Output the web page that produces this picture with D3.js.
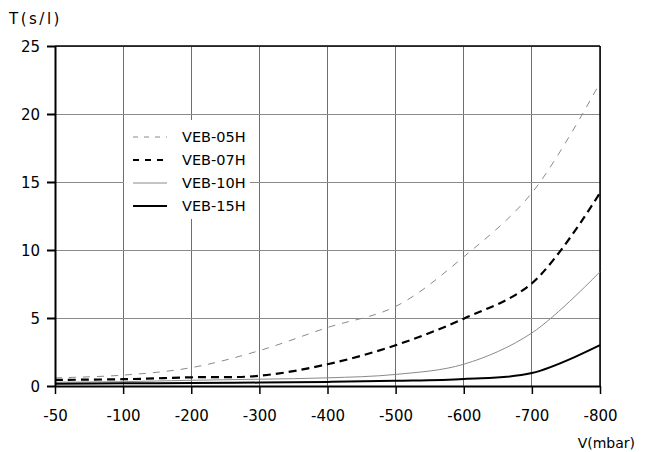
<!DOCTYPE html>
<html>
<head>
<meta charset="utf-8">
<script src="https://cdn.jsdelivr.net/npm/d3@7"></script>
<style>
  html, body { margin: 0; padding: 0; background: #fff; }
  svg { display: block; }
  text { font-family: "DejaVu Sans", sans-serif; fill: #000; }
</style>
</head>
<body>
<svg id="chart" width="646" height="452"></svg>
<script>
// ---- data ----
const categories = ["-50", "-100", "-200", "-300", "-400", "-500", "-600", "-700", "-800"];
const veb05H = [0.6, 0.8, 1.35, 2.6, 4.3, 5.85, 9.5, 14.2, 22.3];
const veb07H = [0.45, 0.5, 0.64, 0.75, 1.6, 3.0, 4.95, 7.55, 14.2];
const veb10H = [0.28, 0.32, 0.42, 0.5, 0.6, 0.85, 1.6, 3.9, 8.4];
const veb15H = [0.17, 0.2, 0.22, 0.25, 0.3, 0.38, 0.52, 0.95, 3.0];
const seriesNames = ["VEB-05H", "VEB-07H", "VEB-10H", "VEB-15H"];
const yTicks = [0, 5, 10, 15, 20, 25];

const seriesValues = [veb05H, veb07H, veb10H, veb15H];
const styles = [
  { stroke: "#8a8a8a", width: 1, dash: "7,7", legendDash: "5,6" },
  { stroke: "#000", width: 2.2, dash: "8,5", legendDash: "6,6" },
  { stroke: "#8a8a8a", width: 1, dash: null, legendDash: null },
  { stroke: "#000", width: 2, dash: null, legendDash: null }
];

const svg = d3.select("#chart");
const pL = 55, pR = 600, pT = 46, pB = 386;

const x = d3.scalePoint().domain(categories).range([pL, pR]);
const y = d3.scaleLinear().domain([0, 25]).range([pB, pT]);

// grid
const grid = svg.append("g");
grid.selectAll("line.v").data(categories).enter().append("line")
  .attr("x1", d => x(d)).attr("x2", d => x(d))
  .attr("y1", pT).attr("y2", pB)
  .attr("stroke", "#6e6e6e").attr("stroke-width", 1).attr("shape-rendering", "crispEdges");
grid.selectAll("line.h").data(yTicks).enter().append("line")
  .attr("x1", pL).attr("x2", pR)
  .attr("y1", d => y(d)).attr("y2", d => y(d))
  .attr("stroke", "#8a8a8a").attr("stroke-width", 1).attr("shape-rendering", "crispEdges");

// legend background box (hides grid)
svg.append("rect").attr("x", 124).attr("y", 120).attr("width", 126).attr("height", 99)
  .attr("fill", "#fff");

// frame top/right
svg.append("line").attr("x1", pL).attr("x2", pR).attr("y1", pT).attr("y2", pT)
  .attr("stroke", "#000").attr("stroke-width", 1.5);
svg.append("line").attr("x1", pR).attr("x2", pR).attr("y1", pT).attr("y2", pB)
  .attr("stroke", "#000").attr("stroke-width", 1.5);

// curves
const line = d3.line()
  .x((d, i) => x(categories[i]))
  .y(d => y(d))
  .curve(d3.curveCatmullRom.alpha(0.5));

seriesValues.forEach((vals, k) => {
  const s = styles[k];
  svg.append("path").datum(vals)
    .attr("d", line)
    .attr("fill", "none")
    .attr("stroke", s.stroke)
    .attr("stroke-width", s.width)
    .attr("stroke-dasharray", s.dash);
});

// axes
const yAxis = d3.axisLeft(y).tickValues(yTicks).tickSize(8).tickPadding(7).tickSizeOuter(0);
const gy = svg.append("g").attr("transform", `translate(${pL},0)`).call(yAxis);
gy.select(".domain").attr("stroke-width", 2);
gy.selectAll(".tick line").attr("stroke-width", 2);
gy.selectAll("text").style("font-size", "15px").style("font-family", "DejaVu Sans").attr("dy", "0.35em");

const xAxis = d3.axisBottom(x).tickSize(8).tickPadding(16).tickSizeOuter(0);
const gx = svg.append("g").attr("transform", `translate(0,${pB})`).call(xAxis);
gx.select(".domain").attr("stroke-width", 2);
gx.selectAll(".tick line").attr("stroke-width", 1.5);
gx.selectAll("text").style("font-size", "15px").style("font-family", "DejaVu Sans");

// axis titles
svg.append("text").attr("x", 9).attr("y", 19).attr("dy", "0.35em")
  .style("font-size", "15px").style("letter-spacing", "2.5px").text("T(s/l)");
svg.append("text").attr("x", 635).attr("y", 443).attr("dy", "0.35em")
  .attr("text-anchor", "end")
  .style("font-size", "14px").text("V(mbar)");

// legend
const legendY = [137, 160, 183, 206];
seriesNames.forEach((name, k) => {
  const s = styles[k];
  svg.append("line").attr("x1", 133).attr("x2", 167)
    .attr("y1", legendY[k]).attr("y2", legendY[k])
    .attr("stroke", s.stroke).attr("stroke-width", s.width)
    .attr("stroke-dasharray", s.legendDash);
  svg.append("text").attr("x", 182).attr("y", legendY[k]).attr("dy", "0.35em")
    .style("font-size", "14.5px").text(name);
});
</script>
</body>
</html>
